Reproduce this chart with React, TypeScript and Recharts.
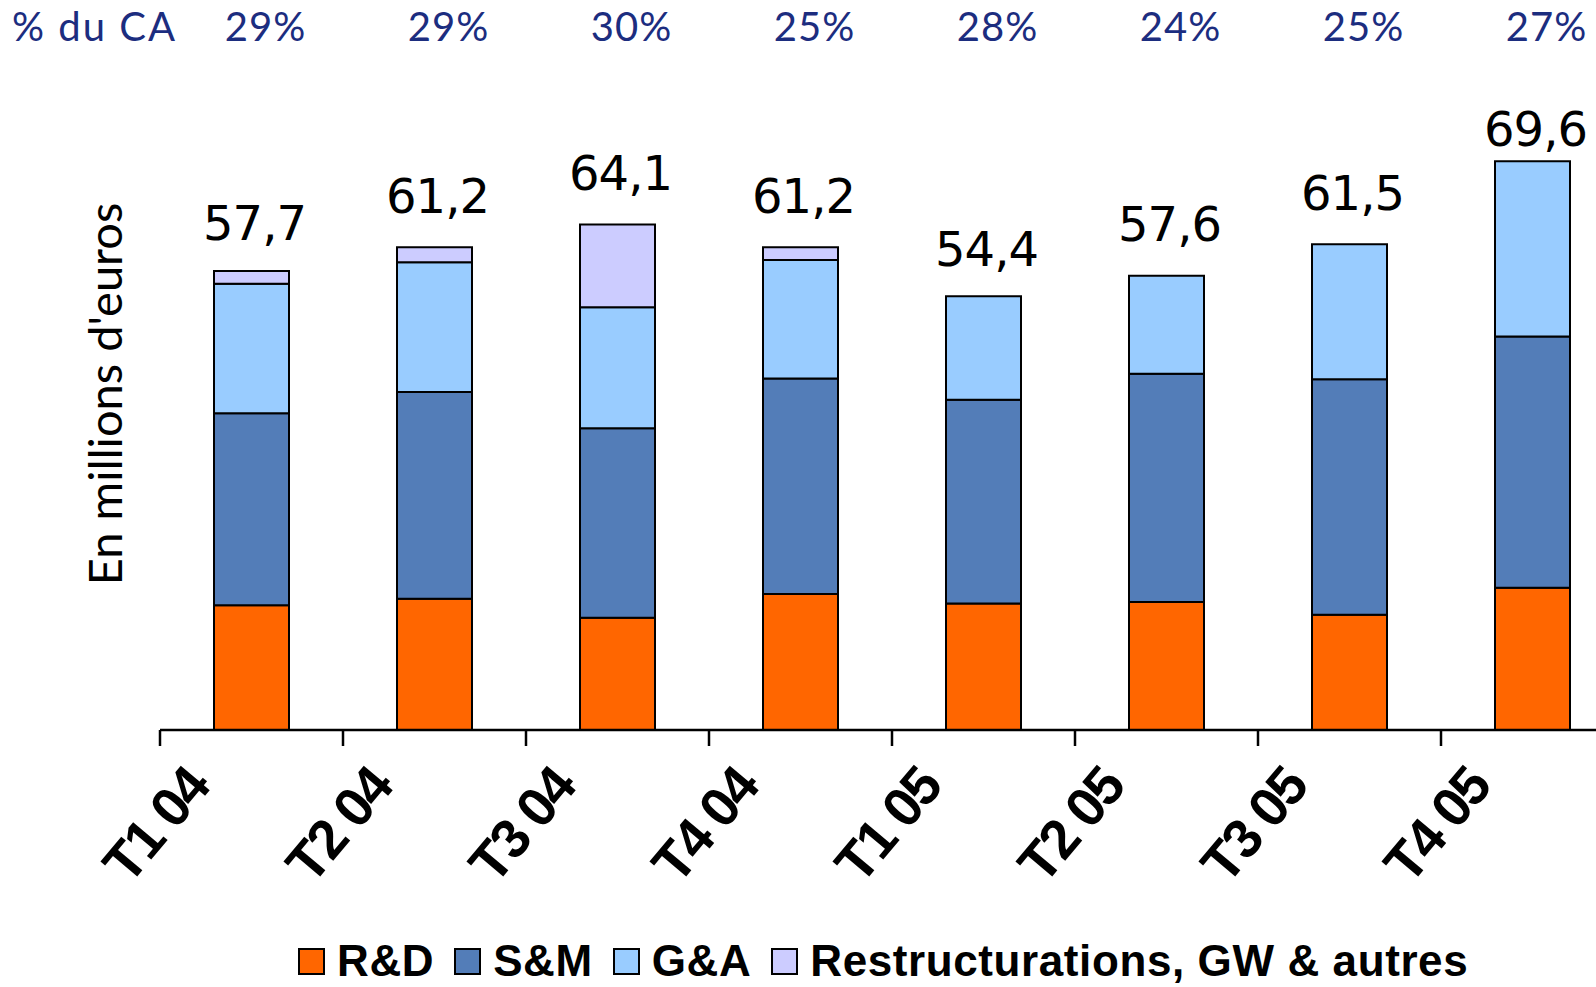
import React from 'react';
import {
  ComposedChart,
  Bar,
  Line,
  XAxis,
  YAxis,
  LabelList,
} from 'recharts';

const quarters = ['T1 04', 'T2 04', 'T3 04', 'T4 04', 'T1 05', 'T2 05', 'T3 05', 'T4 05'];
const rdValues = [15.8, 16.6, 14.2, 17.2, 16.0, 16.2, 14.6, 18.0];
const smValues = [24.3, 26.2, 24.0, 27.3, 25.8, 28.9, 29.8, 31.8];
const gaValues = [16.4, 16.4, 15.3, 15.0, 13.1, 12.4, 17.1, 22.2];
const restrValues = [1.6, 1.9, 10.5, 1.6, 0, 0, 0, 0];
const totals = [57.7, 61.2, 64.1, 61.2, 54.4, 57.6, 61.5, 69.6];
const pctOfSales = [29, 29, 30, 25, 28, 24, 25, 27];

const SERIES = [
  { key: 'rd', name: 'R&D', color: '#ff6600' },
  { key: 'sm', name: 'S&M', color: '#537db8' },
  { key: 'ga', name: 'G&A', color: '#99ccff' },
  { key: 'restr', name: 'Restructurations, GW & autres', color: '#ccccff' },
];

const data = quarters.map((q, i) => ({
  quarter: q,
  rd: rdValues[i],
  sm: smValues[i],
  ga: gaValues[i],
  restr: restrValues[i],
  total: totals[i],
  totalLabel: totals[i].toFixed(1).replace('.', ','),
  pct: pctOfSales[i],
}));

const CHART_W = 1640;
const CHART_H = 987;
const PLOT_LEFT = 160;
const PLOT_RIGHT_MARGIN = 16;
const BAND = (CHART_W - PLOT_LEFT - PLOT_RIGHT_MARGIN) / quarters.length;
const NAVY = '#1c2d7f';

function QuarterTick(props: any) {
  const { x, y, payload } = props;
  const tx = x - 40;
  const ty = y + 58;
  return (
    <g>
      <line x1={x - BAND / 2} y1={y} x2={x - BAND / 2} y2={y + 16} stroke="#000" strokeWidth={2.5} />
      <text
        x={tx}
        y={ty}
        transform={`rotate(-50, ${tx}, ${ty})`}
        textAnchor="end"
        fontFamily="'Liberation Sans', Arial, sans-serif"
        fontWeight="bold"
        fontSize={55}
        letterSpacing={-2.5}
        fill="#000"
      >
        {payload.value}
      </text>
    </g>
  );
}

function YTitle(props: any) {
  const { viewBox } = props;
  const x = viewBox.x + 122;
  const y = viewBox.y + viewBox.height / 2 - 20;
  return (
    <text
      x={x}
      y={y}
      transform={`rotate(-90, ${x}, ${y})`}
      textAnchor="middle"
      fontFamily="Lato, sans-serif"
      fontSize={47}
      fill="#000"
    >
      En millions d'euros
    </text>
  );
}

function TotalLabel(props: any) {
  const { x, y, value } = props;
  return (
    <text
      x={x + 3}
      y={y - 34}
      textAnchor="middle"
      fontFamily="'DejaVu Sans', sans-serif"
      fontSize={48}
      letterSpacing={-1}
      fill="#000"
    >
      {value}
    </text>
  );
}

function PctLabel(props: any) {
  const { x, index } = props;
  return (
    <text
      x={x + 14}
      y={41}
      textAnchor="middle"
      fontFamily="Lato, sans-serif"
      fontSize={40}
      letterSpacing={1}
      fill={NAVY}
    >
      {pctOfSales[index]}%
    </text>
  );
}

export default function App() {
  return (
    <div
      style={{
        position: 'absolute',
        left: 0,
        top: 0,
        width: 1596,
        height: 987,
        overflow: 'hidden',
        background: '#fff',
      }}
    >
      <div
        style={{
          position: 'absolute',
          left: 12,
          top: 2,
          lineHeight: '49px',
          fontFamily: 'Lato, sans-serif',
          fontSize: 40,
          letterSpacing: 2,
          color: NAVY,
          whiteSpace: 'nowrap',
        }}
      >
        % du CA
      </div>
      <ComposedChart
        width={CHART_W}
        height={CHART_H}
        data={data}
        margin={{ top: 98, right: PLOT_RIGHT_MARGIN, bottom: 0, left: 0 }}
      >
        <XAxis
          dataKey="quarter"
          height={257}
          tickSize={0}
          tickMargin={0}
          tickLine={false}
          axisLine={{ stroke: '#000', strokeWidth: 2.5 }}
          tick={<QuarterTick />}
          interval={0}
        />
        <YAxis
          width={160}
          domain={[0, 80]}
          tick={false}
          tickLine={false}
          axisLine={false}
          label={<YTitle />}
        />
        {SERIES.map(s => (
          <Bar
            key={s.key}
            dataKey={s.key}
            name={s.name}
            stackId="a"
            fill={s.color}
            stroke="#000"
            strokeWidth={2}
            barSize={75}
            isAnimationActive={false}
          />
        ))}
        <Line
          dataKey="total"
          stroke="none"
          dot={false}
          activeDot={false}
          isAnimationActive={false}
        >
          <LabelList dataKey="totalLabel" content={<TotalLabel />} />
          <LabelList dataKey="pct" content={<PctLabel />} />
        </Line>
      </ComposedChart>
      <div
        style={{
          position: 'absolute',
          left: 298,
          top: 939,
          display: 'flex',
          alignItems: 'center',
          fontFamily: "'Liberation Sans', Arial, sans-serif",
          fontWeight: 'bold',
          fontSize: 44,
          letterSpacing: 0.6,
          whiteSpace: 'nowrap',
          lineHeight: '44px',
        }}
      >
        {SERIES.map(s => (
          <div key={s.key} style={{ display: 'flex', alignItems: 'center', marginRight: 20 }}>
            <span
              style={{
                display: 'inline-block',
                width: 23,
                height: 23,
                background: s.color,
                border: '2px solid #000',
                marginRight: 12,
              }}
            />
            <span>{s.name}</span>
          </div>
        ))}
      </div>
    </div>
  );
}
